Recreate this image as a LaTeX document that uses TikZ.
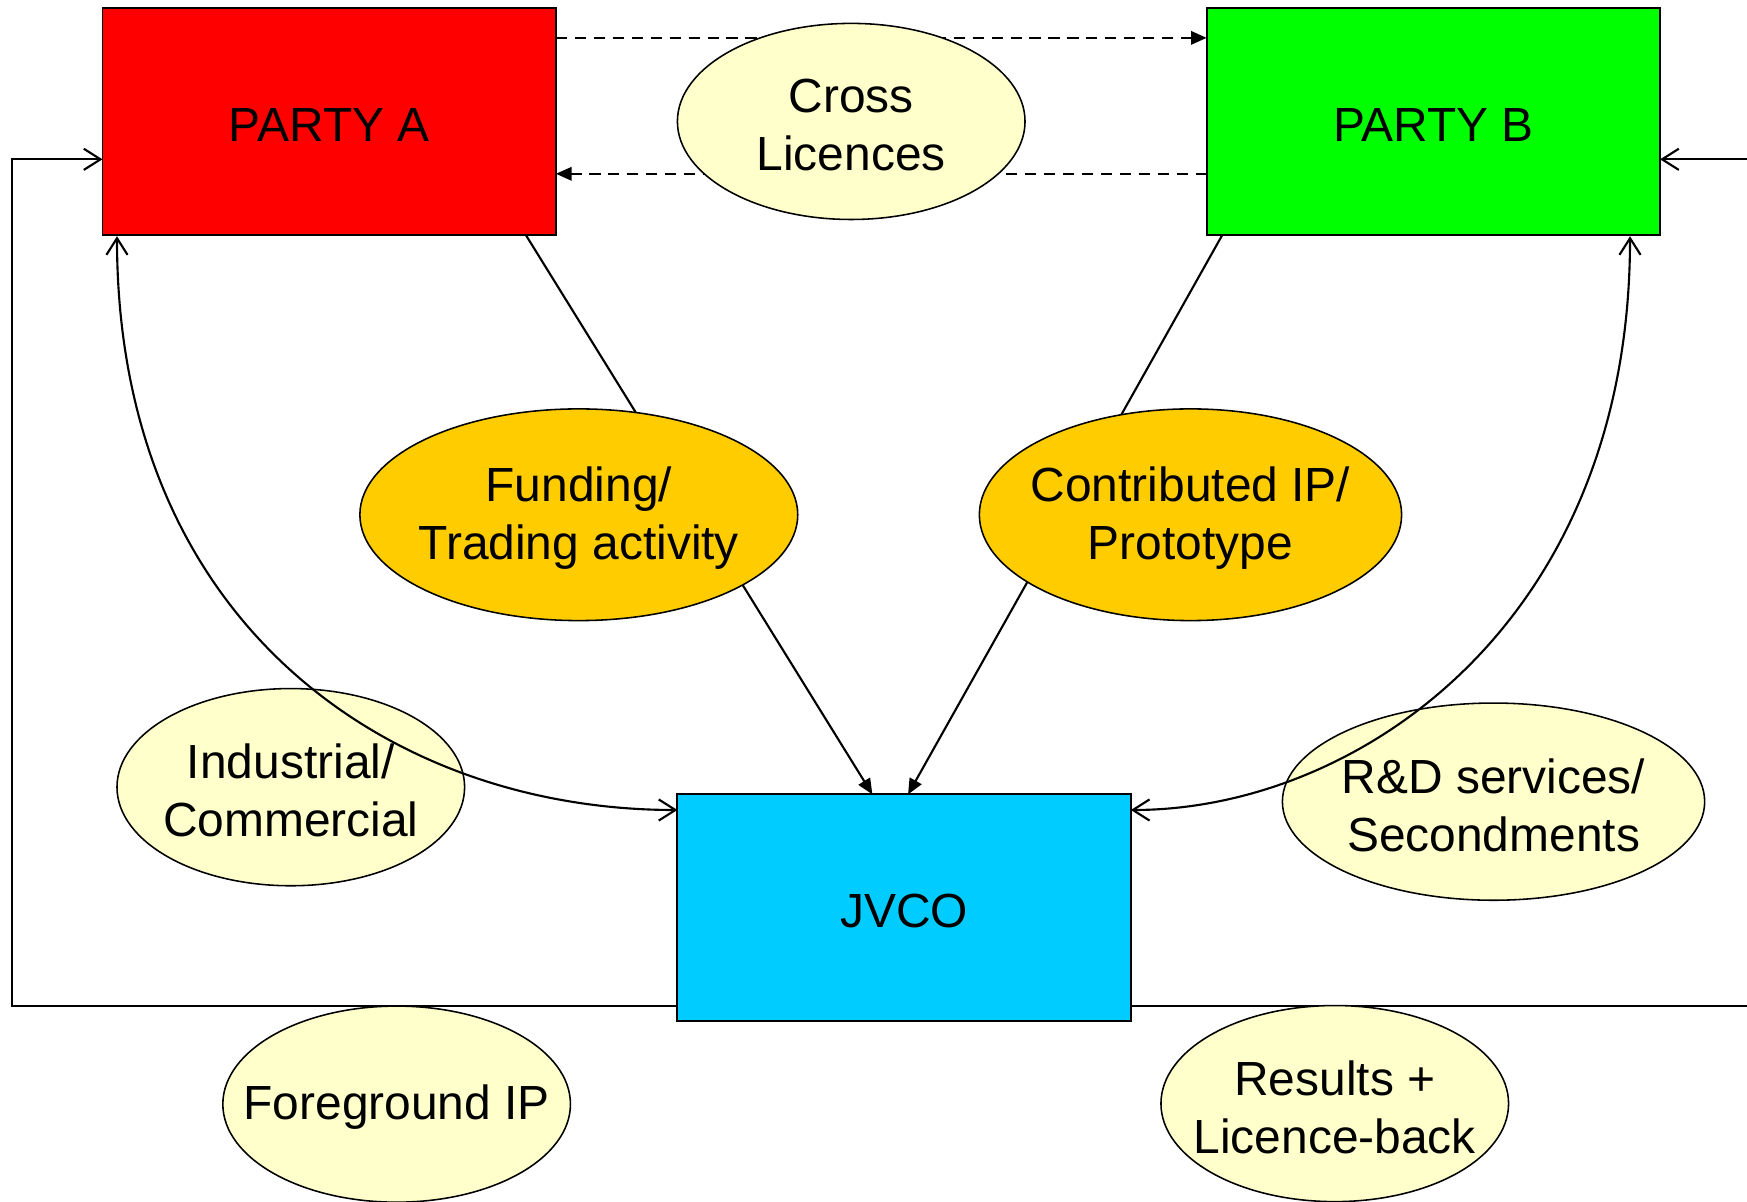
\documentclass[tikz,border=0pt]{standalone}
\usepackage{fontspec}
\setmainfont{Liberation Sans}
\usetikzlibrary{arrows.meta}
\definecolor{cred}{HTML}{FF0000}
\definecolor{cgreen}{HTML}{00FF00}
\definecolor{ccyan}{HTML}{00CCFF}
\definecolor{cpale}{HTML}{FFFFCC}
\definecolor{cgold}{HTML}{FFCC00}
\tikzset{
  box/.style={draw, line width=1.7pt, minimum width=407pt, minimum height=204pt, inner sep=0pt},
  lbl/.style={inner sep=0pt, align=center, yshift=-3pt, font=\fontsize{43}{52}\selectfont},
  ovl/.style={draw, line width=1.4pt},
  conn/.style={line width=1.9pt},
  filltip/.style={-{Triangle[length=14pt,width=12pt]}},
  barb/.tip={Straight Barb[length=15pt,width=19pt]},
  dsh/.style={line width=1.9pt, dash pattern=on 10pt off 7pt},
}
\begin{document}
\begin{tikzpicture}[x=1pt,y=-1pt]
\useasboundingbox (0,0) rectangle (1568,1078);
% boxes
\node[box, fill=cred] (A) at (295.5,109) {};
\node[box, fill=cgreen] (B) at (1286.5,109) {};
\node[box, fill=ccyan] (J) at (811.5,814.5) {};
\node[lbl] (At) at (A.center) {PARTY A};
\node[lbl] (Bt) at (B.center) {PARTY B};
\node[lbl] (Jt) at (J.center) {JVCO};
% named endpoints
\coordinate (a1) at (472,211);
\coordinate (j1) at (783,713);
\coordinate (b1) at (1097,211);
\coordinate (j2) at (815,713);
\coordinate (a2) at (105,212);
\coordinate (jl) at (608,727);
\coordinate (b2) at (1463,212);
\coordinate (jr) at (1015,727);
\coordinate (at) at (499,34);
\coordinate (bt) at (1083,34);
\coordinate (ab) at (499,156);
\coordinate (bb) at (1083,156);
\coordinate (al) at (92,143);
\coordinate (br) at (1490,143);
\coordinate (jbl) at (608,903);
\coordinate (jbr) at (1015,903);
\coordinate (lc1) at (11,903);
\coordinate (lc2) at (11,143);
\coordinate (rc1) at (1580,903);
\coordinate (rc2) at (1580,143);
% connectors behind ellipses
\draw[dsh, filltip] (at) -- (bt);
\draw[dsh, filltip] (bb) -- (ab);
\draw[conn, filltip] (a1) -- (j1);
\draw[conn, filltip] (b1) -- (j2);
\draw[conn, -barb] (jbl) -- (lc1) -- (lc2) -- (al);
\draw[conn, -barb] (jbr) -- (rc1) -- (rc2) -- (br);
% ellipses
\filldraw[ovl, fill=cpale] (764,109) ellipse [x radius=156pt, y radius=88pt];
\node[lbl] (cl) at (764,109) {Cross\\Licences};
\filldraw[ovl, fill=cgold] (519.5,462) ellipse [x radius=196.5pt, y radius=95pt];
\node[lbl] (fu) at (519.5,462) {Funding/\\Trading activity};
\filldraw[ovl, fill=cgold] (1068.5,462) ellipse [x radius=189.5pt, y radius=95pt];
\node[lbl] (co) at (1068.5,462) {Contributed IP/\\Prototype};
\filldraw[ovl, fill=cpale] (261,706.5) ellipse [x radius=156pt, y radius=88.5pt];
\node[lbl] (in) at (261,706.5) {Industrial/\\Commercial};
\filldraw[ovl, fill=cpale] (1340.5,719.5) ellipse [x radius=189.5pt, y radius=88.5pt];
\node[lbl] (rd) at (1340.5,719.5) {R\&D services/\\Secondments};
\filldraw[ovl, fill=cpale] (356,991) ellipse [x radius=156pt, y radius=88pt];
\node[lbl] (fg) at (356,991) {Foreground IP};
\filldraw[ovl, fill=cpale] (1198,990.5) ellipse [x radius=156pt, y radius=88pt];
\node[lbl] (rs) at (1198,990.5) {Results +\\Licence-back};
% curves drawn over ellipses
\draw[conn, barb-barb] (a2) .. controls (105,560) and (350,727) .. (jl);
\draw[conn, barb-barb] (b2) .. controls (1463,560) and (1218,727) .. (jr);
\end{tikzpicture}
\end{document}
